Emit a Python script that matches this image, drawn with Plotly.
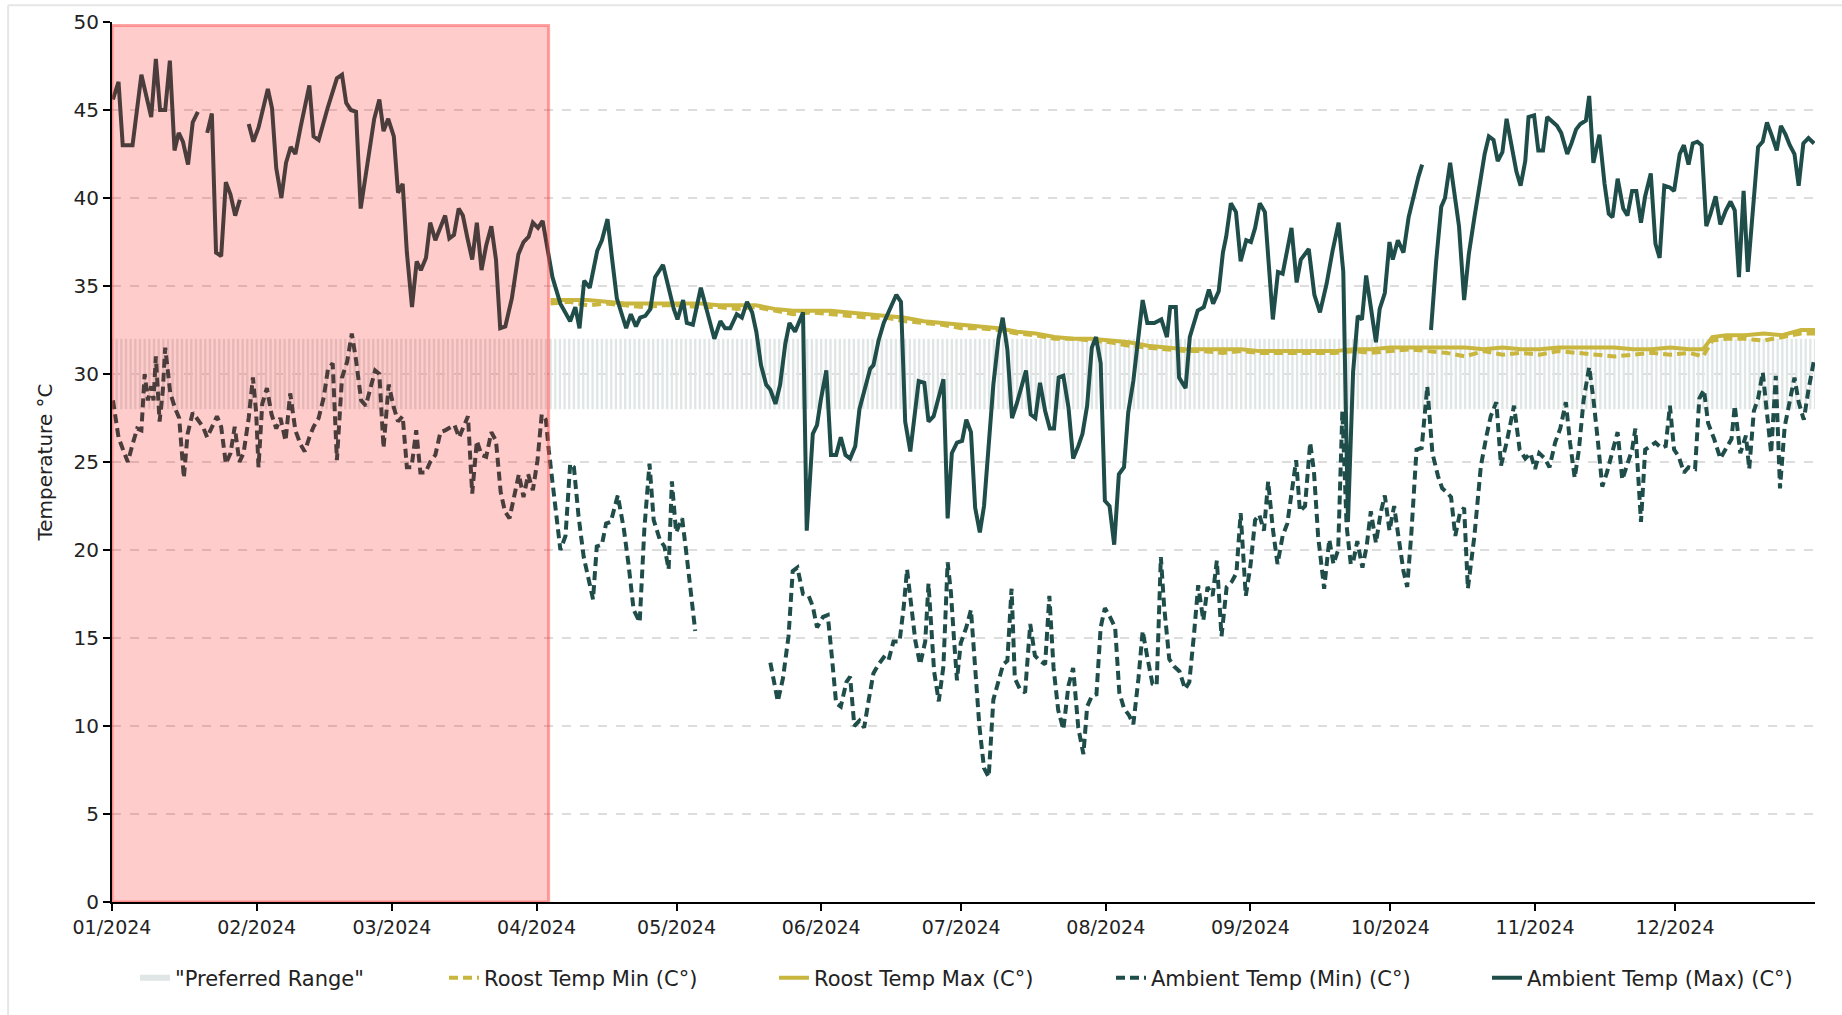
import pandas as pd
import plotly.graph_objects as go

# ---------------- data ----------------
year_start = "2024-01-01"
year_end = "2024-12-31"
preferred_low = 28
preferred_high = 32
unsuitable_period = ("2024-01-01", "2024-04-03 14:00")

# Ambient max (day offset from 1 Jan, °C); None = gap in record
ambient_max_points = [
    (0.2,45.6),(1.4,46.6),(2.3,43.0),(4.4,43.0),(6.3,47.0),(8.4,44.6),(9.4,47.9),(10.3,45.0),
    (11.4,45.0),(12.4,47.8),(13.4,42.7),(14.3,43.7),(15.2,43.2),(16.3,41.9),(17.3,44.3),(18.4,44.9),
    (19.4,None),(20.4,43.7),(21.4,44.8),(22.3,36.9),(23.4,36.7),(24.4,40.9),(25.4,40.2),(26.4,39.0),
    (27.4,39.9),(28.3,None),(29.3,44.2),(30.3,43.2),(31.4,44.0),(33.4,46.2),(34.3,45.1),(35.2,41.7),
    (36.3,40.0),(37.3,42.0),(38.3,42.9),(39.3,42.5),(40.4,44.0),(42.3,46.4),(43.2,43.5),(44.3,43.3),
    (46.2,45.1),(48.2,46.8),(49.3,47.0),(50.2,45.4),(51.2,45.0),(52.3,44.9),(53.3,39.4),(56.2,44.5),
    (57.3,45.6),(58.2,43.8),(59.2,44.5),(60.4,43.5),(61.3,40.3),(62.3,40.8),(63.2,36.9),(64.3,33.8),
    (65.3,36.4),(66.2,35.9),(67.3,36.6),(68.2,38.6),(69.3,37.6),(70.3,38.3),(71.4,39.0),(72.3,37.7),
    (73.3,37.9),(74.3,39.4),(75.2,39.0),(76.2,37.7),(77.2,36.5),(78.2,38.6),(79.2,35.9),(80.2,37.3),
    (81.3,38.4),(82.3,36.5),(83.2,32.6),(84.3,32.7),(85.7,34.3),(87.1,36.8),(88.2,37.5),(89.3,37.8),
    (90.2,38.6),(91.3,38.3),(92.3,38.7),(94.4,35.5),(96.1,34.0),(98.2,33.0),(99.3,33.8),(100.2,32.6),
    (101.2,35.3),(102.4,34.9),(104.0,37.0),(105.0,37.6),(106.2,38.8),(107.2,36.5),(108.2,34.3),
    (110.2,32.6),(111.2,33.4),(112.3,32.7),(113.2,33.2),(114.3,33.3),(115.4,33.7),(116.4,35.5),
    (118.1,36.2),(119.3,34.9),(120.4,33.7),(121.2,33.1),(122.4,34.2),(123.2,32.9),(124.5,32.8),
    (126.2,34.9),(127.5,33.5),(129.1,32.0),(130.4,33.0),(131.4,32.6),(132.5,32.6),(133.9,33.4),
    (135.0,33.2),(136.1,34.1),(137.2,33.5),(138.1,32.4),(139.1,30.5),(140.2,29.4),(141.1,29.1),
    (142.2,28.3),(143.2,29.4),(144.3,31.7),(145.2,32.9),(146.4,32.4),(148.1,33.5),(148.9,21.1),
    (150.2,26.6),(151.1,27.1),(151.9,28.5),(153.1,30.2),(154.1,25.4),(155.2,25.4),(156.2,26.4),
    (157.2,25.4),(158.2,25.2),(159.3,25.9),(160.2,28.0),(161.4,29.3),(162.5,30.3),(163.2,30.5),
    (164.3,31.9),(165.4,32.9),(166.4,33.5),(168.1,34.5),(169.1,34.1),(170.0,27.3),(171.1,25.6),
    (171.9,27.3),(172.9,29.6),(174.1,29.5),(175.0,27.3),(176.1,27.6),(177.2,28.8),(178.2,29.7),
    (179.1,21.8),(180.0,25.5),(181.1,26.1),(182.2,26.2),(183.1,27.4),(184.1,26.7),(185.0,22.4),
    (186.0,21.0),(186.9,22.5),(187.8,25.9),(188.9,29.4),(190.0,32.0),(190.9,33.2),(191.9,31.4),
    (192.9,27.5),(193.9,28.3),(195.0,29.3),(195.9,30.2),(196.9,27.7),(197.9,27.5),(198.9,29.5),
    (200.0,27.9),(201.0,26.9),(201.9,26.9),(202.9,29.8),(203.9,29.9),(205.0,28.1),(206.0,25.2),
    (207.1,25.9),(208.0,26.6),(209.0,28.2),(210.0,31.5),(210.9,32.1),(211.9,30.6),(212.8,22.8),
    (213.8,22.5),(214.8,20.3),(215.8,24.3),(216.9,24.7),(217.8,27.8),(218.9,29.6),(220.0,32.0),
    (220.9,34.2),(221.9,32.9),(223.4,32.9),(224.9,33.1),(226.1,32.1),(226.8,33.8),(228.0,33.8),
    (228.7,29.8),(230.1,29.2),(231.0,32.1),(232.7,33.6),(234.0,33.8),(235.1,34.8),(236.0,34.0),
    (237.2,34.7),(238.1,36.9),(238.8,37.8),(239.8,39.7),(240.9,39.2),(241.9,36.4),(243.1,37.6),
    (244.1,37.5),(245.0,38.3),(246.0,39.7),(247.1,39.2),(248.8,33.1),(249.9,35.8),(250.9,35.7),
    (252.8,38.3),(253.9,35.2),(254.8,36.5),(256.5,37.1),(257.7,34.5),(258.9,33.5),(260.3,35.1),
    (261.6,37.0),(262.9,38.6),(263.9,35.8),(264.9,21.6),(266.0,30.1),(267.0,33.3),(267.9,33.1),
    (268.8,35.6),(269.8,33.8),(270.9,31.8),(271.7,33.7),(272.8,34.6),(273.8,37.5),(274.5,36.5),
    (275.6,37.6),(276.8,36.9),(277.9,38.9),(279.0,40.2),(280.0,41.2),(280.8,41.9),(281.8,None),
    (282.7,32.5),(283.8,36.4),(284.9,39.5),(285.7,40.0),(286.8,42.0),(287.8,40.1),(288.7,38.4),
    (289.8,34.2),(290.8,36.8),(292.0,38.9),(293.2,40.9),(294.2,42.5),(295.1,43.5),(296.1,43.3),
    (297.0,42.1),(298.0,42.6),(298.9,44.5),(300.0,43.0),(301.0,41.5),(301.9,40.7),(302.9,42.1),
    (303.6,44.6),(304.8,44.7),(305.7,42.7),(306.7,42.7),(307.6,44.6),(308.7,44.3),(309.7,44.1),
    (310.6,43.7),(311.9,42.5),(312.8,43.1),(313.8,43.9),(314.7,44.2),(315.9,44.4),(316.6,45.8),
    (317.5,42.0),(318.8,43.6),(319.9,40.8),(320.8,39.1),(321.6,38.9),(322.7,41.1),(323.9,39.4),
    (324.8,39.0),(325.8,40.4),(326.7,40.4),(327.7,38.6),(328.6,40.1),(329.8,41.4),(330.8,37.4),
    (331.7,36.6),(332.7,40.7),(333.9,40.6),(334.8,40.4),(336.0,42.5),(336.9,43.0),(337.9,41.9),
    (338.8,43.1),(339.8,43.2),(340.7,43.0),(341.7,38.4),(342.6,39.1),(343.7,40.1),(344.7,38.5),
    (345.9,39.3),(346.9,39.8),(347.8,39.3),(348.7,35.5),(349.7,40.4),(350.6,35.8),(351.9,40.4),
    (352.8,42.9),(353.8,43.2),(354.7,44.3),(355.8,43.5),(356.8,42.7),(357.7,44.1),(358.7,43.6),
    (359.6,43.0),(360.6,42.5),(361.5,40.7),(362.5,43.1),(363.6,43.4),(364.8,43.1),
]

# Ambient min (day offset from 1 Jan, °C); None = gap in record
ambient_min_points = [
    (0.2,28.5),(1.4,26.4),(2.5,25.6),(3.4,25.0),(4.4,26.0),(5.4,26.9),(6.3,26.8),(7.0,30.0),
    (7.7,28.5),(8.4,29.3),(8.9,28.5),(9.4,31.0),(10.2,27.3),(10.9,29.1),(11.4,31.5),(12.5,28.9),
    (13.6,28.0),(14.4,27.5),(15.4,24.1),(16.2,26.6),(17.3,27.8),(18.6,27.3),(19.5,27.0),(20.4,26.4),
    (21.4,27.0),(22.5,27.6),(23.4,27.0),(24.4,24.9),(25.4,25.5),(26.3,27.0),(27.3,25.0),(28.2,25.5),
    (29.3,27.5),(30.2,29.8),(30.9,27.8),(31.4,24.7),(32.2,28.3),(33.2,29.2),(34.2,27.7),(35.2,26.9),
    (36.1,27.5),(37.2,26.2),(38.2,28.9),(39.3,26.8),(40.4,26.0),(41.3,25.6),(42.3,26.4),(43.2,27.0),
    (44.3,27.5),(45.4,28.7),(46.3,30.3),(47.3,30.6),(48.2,25.1),(49.3,29.8),(50.4,30.7),(51.4,32.3),
    (52.3,30.8),(53.4,28.5),(54.4,28.2),(55.4,29.1),(56.4,30.2),(57.3,30.0),(58.2,25.8),(59.3,29.4),
    (60.4,28.1),(61.3,27.3),(62.3,27.6),(63.2,24.7),(64.2,24.7),(65.2,26.8),(66.1,24.4),(67.2,24.4),
    (68.2,25.0),(69.3,25.4),(70.4,26.7),(71.4,26.8),(72.5,27.0),(73.4,27.1),(74.4,26.4),(75.4,27.0),
    (76.3,27.6),(77.2,23.2),(78.2,26.2),(79.2,25.4),(80.2,25.3),(81.3,26.7),(82.3,26.2),(83.3,23.3),
    (84.2,22.2),(85.2,21.8),(86.3,23.1),(87.2,24.3),(88.2,23.0),(89.2,24.3),(90.2,23.4),(91.2,25.1),
    (92.1,27.7),(93.0,27.4),(93.6,25.7),(94.7,23.1),(96.1,20.0),(97.2,20.8),(98.2,24.9),(99.0,24.7),
    (100.0,21.9),(101.1,19.6),(102.2,18.4),(103.1,17.2),(103.9,20.2),(105.0,20.3),(105.9,21.5),
    (106.9,21.6),(108.4,23.1),(109.7,21.2),(110.7,19.2),(111.8,16.6),(113.1,15.9),(114.1,21.2),
    (115.2,24.9),(116.1,21.7),(117.4,20.6),(118.4,20.2),(119.3,18.9),(120.0,23.9),(120.9,21.0),
    (122.2,21.8),(123.2,19.6),(124.1,17.4),(125.0,15.4),(133.0,None),(141.1,13.6),(142.7,11.4),
    (143.8,12.7),(145.0,15.1),(145.9,18.8),(146.9,19.0),(148.1,17.5),(149.3,17.4),(150.2,16.8),
    (151.1,15.6),(152.4,16.2),(153.4,16.3),(154.3,13.9),(155.2,11.3),(156.2,11.1),(157.4,12.5),
    (158.2,12.8),(159.1,10.0),(160.2,10.3),(161.2,9.9),(162.2,11.5),(163.2,13.0),(164.3,13.5),
    (165.4,13.9),(166.4,13.7),(167.5,14.8),(168.8,14.8),(169.7,16.8),(170.4,18.9),(171.2,17.2),
    (172.2,14.8),(173.2,13.5),(174.3,14.8),(175.0,18.1),(175.5,15.8),(176.2,13.1),(177.2,11.4),
    (178.2,13.4),(179.1,19.3),(179.8,17.6),(180.5,14.8),(181.1,12.6),(181.9,14.7),(183.1,15.6),
    (184.1,16.6),(185.0,13.5),(185.9,10.0),(186.9,7.6),(187.9,7.1),(188.9,11.5),(190.0,12.5),
    (191.0,13.5),(191.9,13.7),(192.8,17.8),(193.5,12.7),(194.6,12.1),(195.7,11.9),(196.8,15.8),
    (197.8,14.0),(198.9,13.7),(200.0,13.5),(200.9,17.4),(201.8,13.3),(202.8,10.9),(203.9,9.8),
    (205.0,12.3),(206.0,13.3),(207.1,9.9),(208.2,8.4),(209.0,11.1),(210.0,11.7),(211.0,11.8),
    (211.9,15.6),(212.8,16.7),(213.9,16.2),(215.0,15.6),(215.9,11.9),(216.9,11.0),(218.0,10.6),
    (218.9,10.1),(220.0,12.7),(220.9,15.4),(221.9,13.9),(223.0,12.4),(223.9,12.3),(224.8,19.6),
    (225.5,16.8),(226.6,13.8),(227.6,13.4),(228.8,13.1),(230.0,12.1),(230.9,12.5),(231.9,15.2),
    (232.8,18.0),(233.9,16.0),(234.8,17.9),(235.9,17.4),(236.8,19.4),(237.8,15.1),(238.9,17.9),
    (240.0,18.2),(241.0,18.7),(241.9,22.1),(243.0,17.4),(244.0,19.1),(245.0,21.7),(245.9,22.0),
    (246.9,21.1),(247.8,23.9),(248.8,21.2),(249.8,19.2),(250.9,20.8),(251.9,21.5),(252.8,23.1),
    (253.8,25.1),(254.6,22.2),(255.7,22.5),(256.8,26.1),(257.6,24.5),(258.5,20.8),(259.8,17.8),
    (260.9,20.6),(261.8,19.2),(262.8,20.0),(263.7,27.9),(264.6,21.4),(265.5,19.2),(266.0,19.3),
    (266.9,20.5),(268.0,19.0),(268.9,20.2),(269.8,22.2),(270.9,20.4),(271.9,22.1),(272.8,23.1),
    (273.8,21.1),(274.8,22.5),(275.7,20.8),(276.8,18.8),(277.6,17.9),(278.5,21.0),(279.6,25.7),
    (280.7,25.8),(281.9,29.3),(283.0,25.5),(284.2,24.2),(285.1,23.5),(286.0,23.3),(287.0,23.0),
    (287.9,20.8),(288.9,22.1),(289.8,22.4),(290.6,17.8),(292.0,20.8),(293.4,24.8),(294.6,26.5),
    (295.5,27.6),(296.7,28.4),(297.7,24.8),(298.9,26.1),(300.5,28.2),(301.7,25.7),(302.9,25.2),
    (304.0,25.5),(305.0,24.6),(305.9,25.5),(307.1,25.2),(308.1,24.7),(309.3,26.1),(310.4,26.9),
    (311.6,28.4),(312.5,26.1),(313.5,24.1),(314.4,25.7),(315.4,28.5),(316.6,30.4),(317.5,28.6),
    (318.5,26.1),(319.4,23.6),(320.4,24.4),(321.6,25.5),(322.7,26.7),(323.7,24.0),(324.6,24.8),
    (325.8,25.7),(326.5,26.9),(327.7,21.6),(328.6,25.7),(329.6,25.9),(330.8,26.1),(332.0,25.8),
    (333.0,25.9),(333.9,28.2),(334.8,25.7),(335.8,25.3),(336.9,24.4),(337.9,24.7),(339.3,24.6),
    (340.2,28.6),(341.2,29.1),(342.1,27.2),(343.4,26.3),(344.7,25.2),(345.9,25.7),(347.1,26.3),
    (347.8,28.2),(349.0,25.5),(350.2,26.5),(350.9,24.6),(351.9,27.9),(352.8,28.6),(353.8,30.1),
    (354.7,27.6),(355.6,25.5),(356.6,29.9),(357.5,23.5),(358.5,27.0),(359.4,28.2),(360.6,29.8),
    (361.5,28.4),(362.6,27.4),(363.6,29.1),(364.8,30.8),
]

# Roost temperatures (day offset, max °C, min °C)
roost_day = [94,98,102,106,110,114,118,122,126,130,134,138,142,146,150,154,158,162,166,170,
             174,178,182,186,190,194,198,202,206,210,214,218,222,226,230,234,238,242,246,250,
             254,258,262,266,270,274,278,282,286,290,294,298,302,306,310,314,318,322,326,330,
             334,338,341,343,346,350,354,358,362,365]
roost_max = [34.2,34.2,34.2,34.1,34.0,34.0,34.0,34.0,34.0,33.9,33.9,33.9,33.7,33.6,33.6,33.6,
             33.5,33.4,33.3,33.2,33.0,32.9,32.8,32.7,32.6,32.4,32.3,32.1,32.0,32.0,31.9,31.8,
             31.6,31.5,31.4,31.4,31.4,31.4,31.3,31.3,31.3,31.3,31.3,31.4,31.4,31.5,31.5,31.5,
             31.5,31.5,31.4,31.5,31.4,31.4,31.5,31.5,31.5,31.5,31.4,31.4,31.5,31.4,31.4,32.1,
             32.2,32.2,32.3,32.2,32.5,32.5]
roost_min = [34.0,34.1,33.9,34.0,33.9,33.8,33.9,33.9,33.8,33.8,33.7,33.8,33.6,33.4,33.5,33.4,
             33.3,33.2,33.2,33.0,32.9,32.8,32.6,32.6,32.5,32.3,32.2,32.0,32.0,31.9,31.8,31.6,
             31.5,31.4,31.3,31.3,31.2,31.3,31.2,31.2,31.2,31.2,31.2,31.3,31.2,31.3,31.4,31.3,
             31.2,31.0,31.3,31.1,31.2,31.1,31.3,31.2,31.1,31.0,31.1,31.2,31.1,31.2,31.0,31.9,
             32.0,32.0,31.9,32.1,32.3,32.3]

y_ticks = [0, 5, 10, 15, 20, 25, 30, 35, 40, 45, 50]

# ---------------- helpers ----------------
origin = pd.Timestamp(year_start)


def to_dates(days):
    return [origin + pd.Timedelta(days=float(d)) for d in days]


TEAL = "#1f4d4a"
GOLD = "#c9b63f"
BAND = "#dfe6e5"
TXT = "#222222"
FONT = "DejaVu Sans, Open Sans, sans-serif"

fig = go.Figure()

# Preferred range: thin daily bars between the low and high bound
band_days = pd.date_range(year_start, year_end, freq="D")
fig.add_trace(go.Bar(
    x=band_days, y=[preferred_high - preferred_low] * len(band_days),
    base=[preferred_low] * len(band_days),
    marker=dict(color=BAND, line=dict(width=0)),
    name='"Preferred Range"', hoverinfo="skip", showlegend=False, legendgroup="band",
))
# legend entry for the band (filled swatch)
fig.add_trace(go.Scatter(
    x=[None], y=[None], mode="none", fill="toself", fillcolor=BAND,
    name='"Preferred Range"', legend="legend", legendgroup="band",
))

fig.add_trace(go.Scatter(
    x=to_dates(roost_day), y=roost_min, mode="lines", name="Roost Temp Min (C°)",
    line=dict(color=GOLD, width=4, dash="9px,5px"), legend="legend2",
))
fig.add_trace(go.Scatter(
    x=to_dates(roost_day), y=roost_max, mode="lines", name="Roost Temp Max (C°)",
    line=dict(color=GOLD, width=4), legend="legend3",
))
fig.add_trace(go.Scatter(
    x=to_dates([p[0] for p in ambient_min_points]), y=[p[1] for p in ambient_min_points],
    mode="lines", name="Ambient Temp (Min) (C°)",
    line=dict(color=TEAL, width=4, dash="9px,5px"), connectgaps=False, legend="legend4",
))
fig.add_trace(go.Scatter(
    x=to_dates([p[0] for p in ambient_max_points]), y=[p[1] for p in ambient_max_points],
    mode="lines", name="Ambient Temp (Max) (C°)",
    line=dict(color=TEAL, width=4), connectgaps=False, legend="legend5",
))

# unsuitable period overlay
fig.add_shape(type="rect", xref="x", yref="y",
              x0=unsuitable_period[0], x1=unsuitable_period[1], y0=0, y1=49.8,
              fillcolor="rgba(255,0,0,0.2)", line=dict(color="rgba(255,60,60,0.45)", width=3),
              layer="above")

# outer thin frame (card border)
fig.add_shape(type="line", xref="paper", yref="paper", x0=-0.061, x1=-0.061, y0=-0.2, y1=1.019,
              line=dict(color="#e6e6e6", width=2))
fig.add_shape(type="line", xref="paper", yref="paper", x0=-0.061, x1=1.05, y0=1.019, y1=1.019,
              line=dict(color="#e6e6e6", width=2))

PLOT_L, PLOT_W = 112, 1703


def legend_at(px):
    return dict(orientation="h", x=(px - PLOT_L) / PLOT_W, xanchor="left",
                y=-0.0864, yanchor="middle", bgcolor="rgba(0,0,0,0)",
                font=dict(family=FONT, size=21, color=TXT), itemwidth=30)


fig.update_layout(
    width=1842, height=1015,
    margin=dict(l=PLOT_L, r=27, t=22, b=113, autoexpand=False),
    paper_bgcolor="white", plot_bgcolor="white",
    font=dict(family=FONT, size=19, color=TXT),
    bargap=0.5,
    showlegend=True,
    legend=legend_at(135),
    legend2=legend_at(444),
    legend3=legend_at(774),
    legend4=legend_at(1111),
    legend5=legend_at(1487),
    hovermode=False,
)
fig.update_xaxes(
    type="date", range=[year_start, year_end],
    dtick="M1", tick0=year_start, tickformat="%m/%Y",
    showline=True, linecolor="black", linewidth=2,
    ticks="outside", tickcolor="black", ticklen=7, tickwidth=1.5,
    showgrid=False, zeroline=False,
    tickfont=dict(size=19, color=TXT),
)
fig.update_yaxes(
    range=[0, 50], tickvals=y_ticks,
    showline=True, linecolor="black", linewidth=2,
    ticks="outside", tickcolor="black", ticklen=7, tickwidth=1.5,
    showgrid=True, gridcolor="#dddddd", griddash="dash", gridwidth=1.5,
    zeroline=False,
    title=dict(text="Temperature °C", font=dict(size=20, color=TXT), standoff=16),
    tickfont=dict(size=20, color=TXT),
)

fig.write_html("out.html", config={"displayModeBar": False},
               post_script="document.body.style.margin='0px';")
